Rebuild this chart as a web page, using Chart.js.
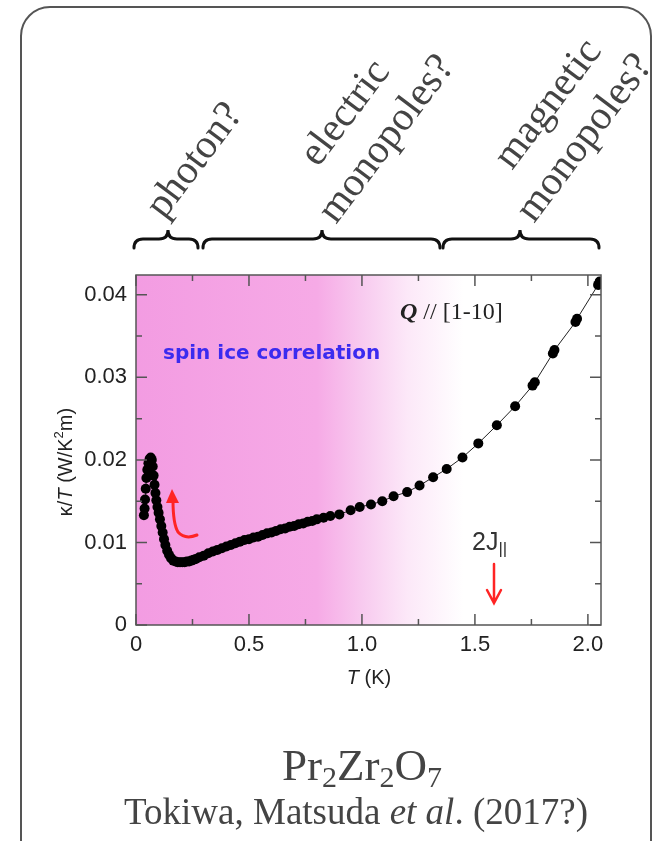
<!DOCTYPE html>
<html>
<head>
<meta charset="utf-8">
<script src="https://cdn.jsdelivr.net/npm/chart.js@4"></script>
<style>
html, body { margin: 0; padding: 0; background: #fff; overflow: hidden; }
#frame { position: absolute; left: 20px; top: 6px; width: 628px; height: 900px; border: 2.5px solid #555; border-radius: 30px; }
#c { position: absolute; left: 0; top: 0; }
</style>
</head>
<body>
<div id="frame"></div>
<canvas id="c" width="656" height="841"></canvas>
<script>
// Thermal conductivity kappa/T of Pr2Zr2O7, Q // [1-10]
const temperature = [
  0.035, 0.038, 0.040, 0.043, 0.046, 0.050, 0.055, 0.060, 0.065, 0.070,
  0.074, 0.078, 0.082, 0.086, 0.090, 0.095, 0.100, 0.106, 0.112, 0.118,
  0.124, 0.130, 0.138, 0.146, 0.155, 0.165, 0.175, 0.185, 0.195, 0.205,
  0.215, 0.225, 0.235, 0.245, 0.255, 0.265, 0.28, 0.30, 0.32, 0.34,
  0.36, 0.38, 0.40, 0.42, 0.44, 0.46, 0.48, 0.50, 0.52, 0.54,
  0.56, 0.58, 0.60, 0.62, 0.64, 0.66, 0.68, 0.70, 0.72, 0.74,
  0.76, 0.78, 0.80, 0.83, 0.86, 0.90, 0.95, 0.99, 1.04, 1.09,
  1.14, 1.20, 1.255, 1.315, 1.375, 1.445, 1.515, 1.597, 1.678, 1.755,
  1.765, 1.845, 1.852, 1.945, 1.952, 2.045, 2.052
];
const kappaOverT = [
  0.0133, 0.0141, 0.0152, 0.0165, 0.0178, 0.0188, 0.0196, 0.0201, 0.0203, 0.0200,
  0.0192, 0.0181, 0.0170, 0.0160, 0.0151, 0.0143, 0.0136, 0.0128, 0.0120, 0.0112,
  0.0104, 0.0097, 0.0090, 0.0085, 0.0081, 0.0078, 0.0077, 0.0076, 0.0076, 0.0076,
  0.0076, 0.0077, 0.0077, 0.0078, 0.0079, 0.0080, 0.0082, 0.0084, 0.0087, 0.0089,
  0.0091, 0.0093, 0.0095, 0.0097, 0.0099, 0.0101, 0.0103, 0.0104, 0.0106, 0.0107,
  0.0109, 0.0111, 0.0112, 0.0114, 0.0116, 0.0117, 0.0119, 0.0120, 0.0122, 0.0123,
  0.0125, 0.0126, 0.0128, 0.0130, 0.0132, 0.0134, 0.0139, 0.0143, 0.0146, 0.0150,
  0.0156, 0.0161, 0.0169, 0.0179, 0.0189, 0.0203, 0.0220, 0.0242, 0.0265, 0.0290,
  0.0294, 0.0329, 0.0333, 0.0367, 0.0371, 0.0412, 0.0416
];

const xTickValues = [0, 0.25, 0.5, 0.75, 1.0, 1.25, 1.5, 1.75, 2.0];
const xTickLabels = ['0', '', '0.5', '', '1.0', '', '1.5', '', '2.0'];
const yTickValues = [0, 0.005, 0.01, 0.015, 0.02, 0.025, 0.03, 0.035, 0.04];
const yTickLabels = ['0', '', '0.01', '', '0.02', '', '0.03', '', '0.04'];

const SANS = '"Liberation Sans", Arial, sans-serif';
const SERIF = '"Liberation Serif", "Times New Roman", serif';

// draw a run of differently styled text pieces
function richText(ctx, parts, x, y, align) {
  let total = 0;
  parts.forEach(p => { ctx.font = p.font; total += ctx.measureText(p.t).width; });
  let cx = align === 'center' ? x - total / 2 : x;
  parts.forEach(p => {
    ctx.font = p.font;
    ctx.fillText(p.t, cx, y + (p.dy || 0));
    cx += ctx.measureText(p.t).width;
  });
}

function brace(ctx, x1, x2, xt, y) {
  const r = 9;
  ctx.beginPath();
  ctx.moveTo(x1, y + r);
  ctx.quadraticCurveTo(x1, y, x1 + r, y);
  ctx.lineTo(xt - r, y);
  ctx.quadraticCurveTo(xt, y, xt, y - r);
  ctx.quadraticCurveTo(xt, y, xt + r, y);
  ctx.lineTo(x2 - r, y);
  ctx.quadraticCurveTo(x2, y, x2, y + r);
  ctx.stroke();
}

const shading = {
  id: 'shading',
  beforeDatasetsDraw(chart) {
    const { ctx, chartArea: a, scales: { x } } = chart;
    const g = ctx.createLinearGradient(a.left, 0, a.right, 0);
    const w = a.right - a.left;
    const stop = t => (x.getPixelForValue(t) - a.left) / w;
    g.addColorStop(0, 'rgb(243,156,226)');
    g.addColorStop(stop(0.8), 'rgb(246,170,230)');
    g.addColorStop(stop(1.0), 'rgb(248,202,239)');
    g.addColorStop(stop(1.2), 'rgb(252,232,248)');
    g.addColorStop(stop(1.45), 'rgb(255,255,255)');
    g.addColorStop(1, 'rgb(255,255,255)');
    ctx.save();
    ctx.fillStyle = g;
    ctx.fillRect(a.left, a.top, w, a.bottom - a.top);
    ctx.restore();
  }
};

const decorations = {
  id: 'decorations',
  afterDraw(chart) {
    const { ctx, chartArea: a, scales: { x, y } } = chart;
    ctx.save();

    // frame and inward ticks
    ctx.strokeStyle = '#555';
    ctx.lineWidth = 1.5;
    ctx.strokeRect(a.left, a.top, a.right - a.left, a.bottom - a.top);
    ctx.beginPath();
    xTickValues.forEach((v, i) => {
      const px = x.getPixelForValue(v);
      const len = xTickLabels[i] ? 11 : 6;
      ctx.moveTo(px, a.bottom); ctx.lineTo(px, a.bottom - len);
      ctx.moveTo(px, a.top); ctx.lineTo(px, a.top + len);
    });
    yTickValues.forEach((v, i) => {
      const py = y.getPixelForValue(v);
      const len = yTickLabels[i] ? 11 : 6;
      ctx.moveTo(a.left, py); ctx.lineTo(a.left + len, py);
      ctx.moveTo(a.right, py); ctx.lineTo(a.right - len, py);
    });
    ctx.stroke();

    // axis titles
    ctx.fillStyle = '#222';
    ctx.textBaseline = 'alphabetic';
    richText(ctx, [
      { t: 'T', font: 'italic 20px ' + SANS },
      { t: ' (K)', font: '20px ' + SANS }
    ], 369, 684, 'center');
    ctx.save();
    ctx.translate(72, 462);
    ctx.rotate(-Math.PI / 2);
    richText(ctx, [
      { t: 'κ/', font: '20px ' + SANS },
      { t: 'T', font: 'italic 20px ' + SANS },
      { t: ' (W/K', font: '20px ' + SANS },
      { t: '2', font: '13px ' + SANS, dy: -9 },
      { t: 'm)', font: '20px ' + SANS }
    ], 0, 0, 'center');
    ctx.restore();

    // labels inside the plot
    ctx.fillStyle = '#3b2bef';
    ctx.font = 'bold 20px "DejaVu Sans", sans-serif';
    ctx.fillText('spin ice correlation', 163, 359);
    ctx.fillStyle = '#222';
    richText(ctx, [
      { t: 'Q', font: 'bold italic 24px ' + SERIF },
      { t: ' // [1-10]', font: '24px ' + SERIF }
    ], 400, 319, 'left');
    ctx.fillStyle = '#333';
    richText(ctx, [
      { t: '2J', font: '25px ' + SANS },
      { t: '||', font: '17px ' + SANS, dy: 4 }
    ], 472, 550, 'left');

    // red arrows
    ctx.strokeStyle = '#ff2424';
    ctx.fillStyle = '#ff2424';
    ctx.lineWidth = 2.5;
    ctx.lineCap = 'round';
    ctx.beginPath();
    ctx.moveTo(494, 564); ctx.lineTo(494, 602);
    ctx.moveTo(487, 590); ctx.lineTo(494, 603); ctx.lineTo(501, 590);
    ctx.stroke();
    ctx.lineWidth = 3;
    ctx.beginPath();
    ctx.moveTo(197, 535);
    ctx.quadraticCurveTo(185, 540, 178, 532);
    ctx.quadraticCurveTo(173, 524, 173, 500);
    ctx.stroke();
    ctx.beginPath();
    ctx.moveTo(172, 489); ctx.lineTo(166, 503); ctx.lineTo(179, 503);
    ctx.closePath();
    ctx.fill();

    // braces and regime labels above the plot
    ctx.strokeStyle = '#111';
    ctx.lineWidth = 3;
    ctx.lineCap = 'round';
    brace(ctx, 134, 198, 168, 239);
    brace(ctx, 203, 440, 322, 239);
    brace(ctx, 443, 599, 520, 239);
    ctx.fillStyle = '#444';
    ctx.font = '41px ' + SERIF;
    const ang = -53 * Math.PI / 180;
    [['photon?', 164, 220], ['electric', 318, 168], ['monopoles?', 336, 225],
     ['magnetic', 512, 171], ['monopoles?', 534, 224]].forEach(([t, tx, ty]) => {
      ctx.save();
      ctx.translate(tx, ty);
      ctx.rotate(ang);
      ctx.fillText(t, 0, 0);
      ctx.restore();
    });

    // caption
    ctx.fillStyle = '#444';
    richText(ctx, [
      { t: 'Pr', font: '45px ' + SERIF },
      { t: '2', font: '30px ' + SERIF, dy: 7 },
      { t: 'Zr', font: '45px ' + SERIF },
      { t: '2', font: '30px ' + SERIF, dy: 7 },
      { t: 'O', font: '45px ' + SERIF },
      { t: '7', font: '30px ' + SERIF, dy: 7 }
    ], 362, 780, 'center');
    richText(ctx, [
      { t: 'Tokiwa, Matsuda ', font: '37px ' + SERIF },
      { t: 'et al', font: 'italic 37px ' + SERIF },
      { t: '. (2017?)', font: '37px ' + SERIF }
    ], 356, 824, 'center');

    ctx.restore();
  }
};

new Chart(document.getElementById('c'), {
  type: 'scatter',
  data: {
    datasets: [{
      data: temperature.map((t, i) => ({ x: t, y: kappaOverT[i] })),
      showLine: true,
      borderColor: '#222',
      borderWidth: 1,
      pointRadius: 5,
      pointBackgroundColor: '#000',
      pointBorderWidth: 0
    }]
  },
  options: {
    responsive: false,
    animation: false,
    devicePixelRatio: 1,
    layout: { padding: { top: 275, right: 55, left: 0, bottom: 0 } },
    plugins: { legend: { display: false }, tooltip: { enabled: false } },
    scales: {
      x: {
        type: 'linear',
        min: 0,
        max: 2.058,
        afterBuildTicks: s => { s.ticks = xTickValues.map(v => ({ value: v })); },
        afterFit: s => { s.height = 216; },
        ticks: {
          callback: (v, i) => xTickLabels[i],
          font: { family: SANS, size: 22 },
          color: '#222',
          padding: 7,
          maxRotation: 0,
          autoSkip: false
        },
        grid: { display: false, drawTicks: false },
        border: { display: false }
      },
      y: {
        type: 'linear',
        min: 0,
        max: 0.0424,
        afterBuildTicks: s => { s.ticks = yTickValues.map(v => ({ value: v })); },
        afterFit: s => { s.width = 136; },
        ticks: {
          callback: (v, i) => yTickLabels[i],
          font: { family: SANS, size: 22 },
          color: '#222',
          padding: 9,
          autoSkip: false
        },
        grid: { display: false, drawTicks: false },
        border: { display: false }
      }
    }
  },
  plugins: [shading, decorations]
});
</script>
</body>
</html>
